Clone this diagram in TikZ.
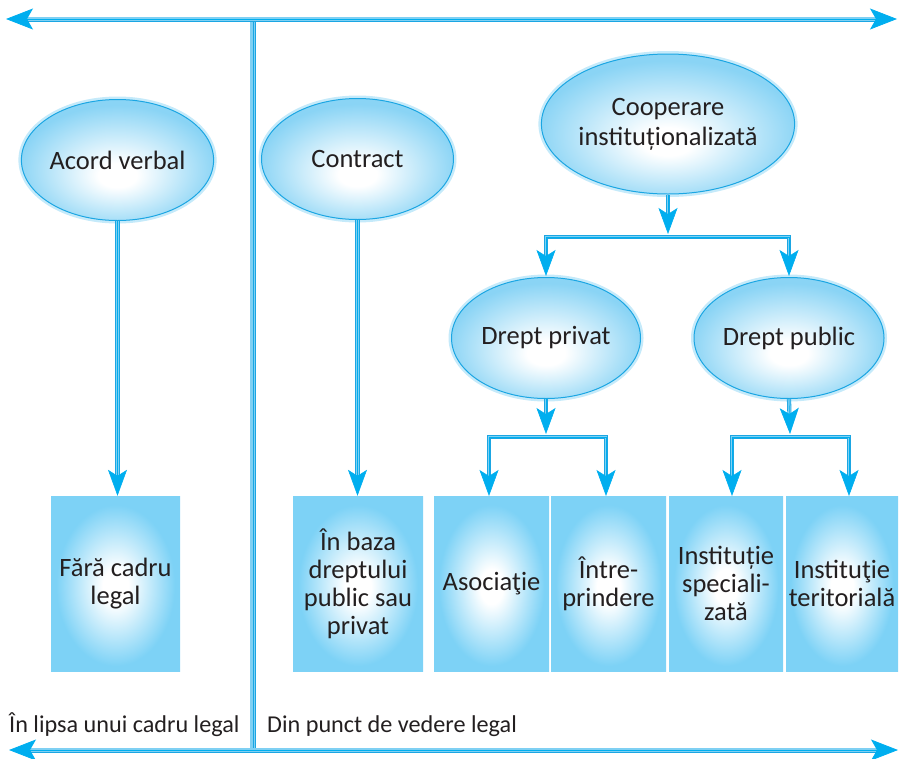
\documentclass[tikz,border=0pt]{standalone}
\usepackage{fontspec}
\setmainfont{Carlito}
\usetikzlibrary{arrows.meta,shapes.geometric,calc}
\definecolor{lblue}{HTML}{7FD0F3}
\definecolor{dblue}{HTML}{1BA6E3}
\definecolor{tipblue}{HTML}{00AEEF}
\definecolor{boxblue}{HTML}{7DD2F6}
\definecolor{ellblue}{HTML}{8AD4F5}
\definecolor{txt}{HTML}{231F20}
\pgfdeclareradialshading{ellshade}{\pgfpoint{0bp}{-7bp}}{color(0bp)=(white); color(5bp)=(white); color(26bp)=(ellblue); color(50bp)=(ellblue)}
\pgfdeclareradialshading{boxshade}{\pgfpoint{0bp}{-1bp}}{color(0bp)=(white); color(5bp)=(white); color(23bp)=(boxblue); color(50bp)=(boxblue)}
\begin{document}
\begin{tikzpicture}[x=1pt,y=-1pt,
  ell/.style={ellipse, draw=dblue, line width=1pt, shading=ellshade,
    minimum width=192pt, minimum height=121pt, inner sep=0pt, align=center,
    text=txt, font=\fontsize{26.5}{30}\selectfont,
    preaction={draw=lblue, line width=6pt, opacity=0.45}},
  box/.style={rectangle, shading=boxshade, minimum height=175pt, inner sep=0pt,
    align=center, text=txt, font=\fontsize{26.5}{28}\selectfont},
  conn/.style={draw=dblue, line width=0.8pt, double=lblue, double distance=2.6pt, shorten >=18pt},
  tipl/.style={draw=tipblue, line width=0.6pt, -{Stealth[length=26pt,width=19pt,inset=6pt]}},
  fband/.style={draw=lblue, line width=5pt},
  fline/.style={draw=dblue, line width=0.8pt},
  mtip/.style={draw=dblue, line width=0.8pt, tipblue, {Stealth[length=27pt,width=21pt,inset=6pt]}-{Stealth[length=27pt,width=21pt,inset=6pt]}},
  lab/.style={anchor=base west, text=txt, font=\fontsize{24.2}{28}\selectfont, inner sep=0pt}
]
\useasboundingbox (0,0) rectangle (899,758);

% frame coordinates
\coordinate (TL) at (6,19);
\coordinate (TR) at (897,19);
\coordinate (BL) at (9,750);
\coordinate (BR) at (898,750);
\coordinate (VT) at (253,19);
\coordinate (VB) at (253,750);

% vertical divider
\draw[fband, line width=6pt] (VT) -- (VB);
\draw[fline] ([xshift=0.6pt]VT) -- ([xshift=0.6pt]VB);
\draw[fline] ([xshift=2.6pt]VT) -- ([xshift=2.6pt]VB);

% top and bottom double arrows
\draw[fband] ([xshift=20pt]TL) -- ([xshift=-20pt]TR);
\draw[fline] ([xshift=20pt,yshift=-2.4pt]TL) -- ([xshift=-20pt,yshift=-2.4pt]TR);
\draw[mtip] (TL) -- (TR);
\draw[fband] ([xshift=20pt]BL) -- ([xshift=-20pt]BR);
\draw[fline] ([xshift=20pt,yshift=-2.4pt]BL) -- ([xshift=-20pt,yshift=-2.4pt]BR);
\draw[mtip] (BL) -- (BR);

% ellipses
\node[ell] (av) at (117.5,160) {Acord verbal};
\node[ell] (ct) at (357.5,159) {Contract};
\node[ell, minimum width=240pt, minimum height=140pt] (co) at (668,124) {Cooperare\\instituționalizată};
\node[ell, minimum width=189pt] (pv) at (546,338) {Drept privat};
\node[ell, minimum width=190pt] (pb) at (789,338) {Drept public};

% boxes
\node[box, minimum width=129pt] (fa) at (115.5,583.5) {Fără cadru\\legal};
\node[box, minimum width=130pt] (ib) at (358,583.5) {În baza\\dreptului\\public sau\\privat};
\node[box, minimum width=115pt] (as) at (491.5,583.5) {Asociaţie};
\node[box, minimum width=115pt] (in) at (608.5,583.5) {Între-\\prindere};
\node[box, minimum width=114pt] (is) at (726,583.5) {Instituție\\speciali-\\zată};
\node[box, minimum width=112pt] (it) at (842,583.5) {Instituţie\\teritorială};

% connector coordinates
\coordinate (cbar) at (668,237);
\coordinate (ctip) at (668,234);
\coordinate (pvbar) at (546,437);
\coordinate (pvtip) at (546,434);
\coordinate (pbbar) at (790,437);
\coordinate (pbtip) at (790,434);
\coordinate (t1) at (489,496);
\coordinate (t2) at (606,496);
\coordinate (t3) at (732,496);
\coordinate (t4) at (849,496);

% simple connectors
\draw[conn] (av.south) -- (av.south |- fa.north);
\draw[tipl] (av.south) -- (av.south |- fa.north);
\draw[conn] (ct.south) -- (ct.south |- ib.north);
\draw[tipl] (ct.south) -- (ct.south |- ib.north);

% cooperare tree
\draw[conn, shorten >=0pt] (cbar) -| ([yshift=20pt]pv.north);
\draw[conn, shorten >=0pt] (cbar) -| ([yshift=20pt]pb.north);
\draw[tipl] (cbar) -| ([yshift=1pt]pv.north);
\draw[tipl] (cbar) -| ([yshift=1pt]pb.north);
\draw[conn] (co.south) -- (ctip);
\draw[tipl] (co.south) -- (ctip);

% drept privat tree
\draw[conn, shorten >=0pt] (pvbar) -| ([yshift=20pt]t1);
\draw[conn, shorten >=0pt] (pvbar) -| ([yshift=20pt]t2);
\draw[tipl] (pvbar) -| (t1);
\draw[tipl] (pvbar) -| (t2);
\draw[conn] (pv.south) -- (pvtip);
\draw[tipl] (pv.south) -- (pvtip);

% drept public tree
\draw[conn, shorten >=0pt] (pbbar) -| ([yshift=20pt]t3);
\draw[conn, shorten >=0pt] (pbbar) -| ([yshift=20pt]t4);
\draw[tipl] (pbbar) -| (t3);
\draw[tipl] (pbbar) -| (t4);
\draw[conn] (pb.south) -- (pbtip);
\draw[tipl] (pb.south) -- (pbtip);

% bottom labels
\node[lab] (l1) at (9,732) {În lipsa unui cadru legal};
\node[lab] (l2) at (267,732) {Din punct de vedere legal};
\end{tikzpicture}
\end{document}
